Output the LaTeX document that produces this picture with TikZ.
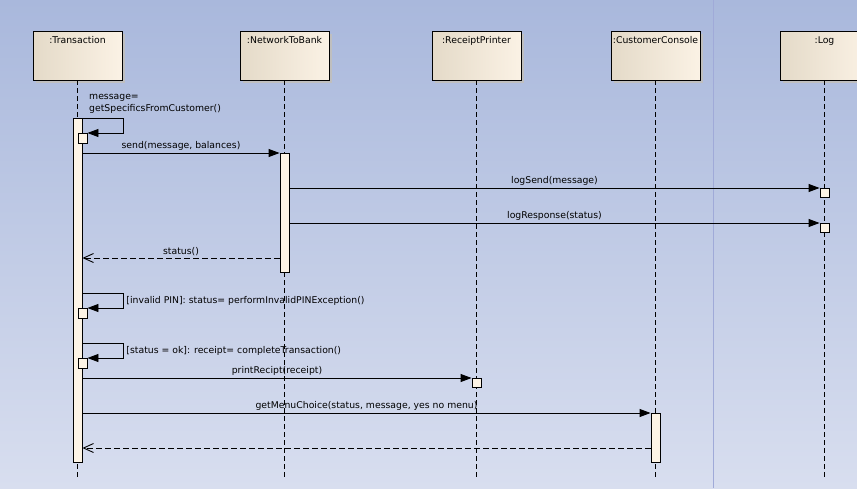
\documentclass[tikz,border=0pt]{standalone}
\usepackage{fontspec}
\setmainfont{DejaVu Sans}
\usetikzlibrary{arrows.meta,shadows,positioning}
\definecolor{bgtop}{HTML}{A9B8DC}
\definecolor{bgbottom}{HTML}{D8DEEF}
\definecolor{headleft}{HTML}{E4DAC8}
\definecolor{headright}{HTML}{FBF2E5}
\definecolor{actfill}{HTML}{FDF4E6}
\definecolor{sepline}{HTML}{A0AAD8}

\begin{document}
\begin{tikzpicture}[x=1pt, y=-1pt, font=\fontsize{9.3}{12}\selectfont,
    head/.style={draw, line width=0.9pt, text width=87pt, align=center, inner xsep=1pt, inner ysep=5pt, outer sep=0pt,
      text height=7pt, text depth=32pt, left color=headleft, middle color=headright, right color=headright,
      drop shadow={shadow xshift=3pt, shadow yshift=-3pt, fill=gray!50, opacity=1}},
    lifeline/.style={line width=0.8pt, dash pattern=on 5pt off 3pt},
    act/.style={draw, fill=actfill, line width=0.9pt, minimum width=9pt, minimum height=9pt, inner sep=0pt, anchor=north},
    msg/.style={-{Triangle[length=11pt,width=8pt]}, line width=0.9pt},
    reply/.style={-{Straight Barb[length=10pt,width=9pt]}, line width=0.9pt, dash pattern=on 6pt off 3pt},
    lbl/.style={above, inner sep=2pt}]
  \path[use as bounding box, clip] (0,0) rectangle (857,488);
  \shade[top color=bgtop, bottom color=bgbottom] (0,0) rectangle (857,488);
  \draw[sepline, line width=0.7pt] (713,0) -- (713,488);

  % heads
  \node[head] (trans) at (77.5,55.5) {:Transaction};
  \node[head, right=118pt of trans] (net) {:NetworkToBank};
  \node[head, right=103pt of net] (printer) {:ReceiptPrinter};
  \node[head, right=90pt of printer] (console) {:CustomerConsole};
  \node[head, right=80pt of console] (log) {:Log};

  % lifelines
  \coordinate (bottom) at (0,478);
  \foreach \obj in {trans, net, printer, console, log}
    \draw[lifeline] (\obj.south) -- (\obj.south |- bottom);

  % activations
  \node[act, minimum height=344pt] (transact) at (trans.south |- 0,118) {};
  \node[act, minimum height=10pt] (self1) at (82.5,133) {};
  \node[act, minimum height=119pt] (netact) at (net.south |- 0,153) {};
  \node[act] (logbox1) at (log.south |- 0,188) {};
  \node[act] (logbox2) at (log.south |- 0,223) {};
  \node[act, minimum height=10pt] (self2) at (82.5,308) {};
  \node[act, minimum height=10pt] (self3) at (82.5,358) {};
  \node[act] (printbox) at (printer.south |- 0,378) {};
  \node[act, minimum height=49pt] (consoleact) at (console.south |- 0,413) {};

  \coordinate (loop1) at (123,118);
  \coordinate (loop2) at (123,293);
  \coordinate (loop3) at (123,343);

  % messages
  \node[anchor=south west, align=left, inner sep=1pt] (getspec) at (88,115) {message=\\getSpecificsFromCustomer()};
  \draw[msg] (transact.east |- loop1) -- (loop1) |- (self1.north east);
  \draw[msg] (transact.east |- netact.north) -- node[lbl] {send(message, balances)} (netact.north west);
  \draw[msg] (netact.east |- logbox1.north) -- node[lbl] {logSend(message)} (logbox1.north west);
  \draw[msg] (netact.east |- logbox2.north) -- node[lbl] {logResponse(status)} (logbox2.north west);
  \draw[reply] (netact.west |- 0,258) -- node[lbl] {status()} (transact.east |- 0,258);
  \draw[msg] (transact.east |- loop2) -- (loop2) |- node[right, pos=0.25, inner sep=3pt] {[invalid PIN]: status= performInvalidPINException()} (self2.north east);
  \draw[msg] (transact.east |- loop3) -- (loop3) |- node[right, pos=0.25, inner sep=3pt] {[status = ok]: receipt= completeTransaction()} (self3.north east);
  \draw[msg] (transact.east |- printbox.north) -- node[lbl] {printRecipt(receipt)} (printbox.north west);
  \draw[msg] (transact.east |- consoleact.north) -- node[lbl] {getMenuChoice(status, message, yes no menu)} (consoleact.north west);
  \draw[reply] (consoleact.west |- 0,448) -- (transact.east |- 0,448);
\end{tikzpicture}
\end{document}
